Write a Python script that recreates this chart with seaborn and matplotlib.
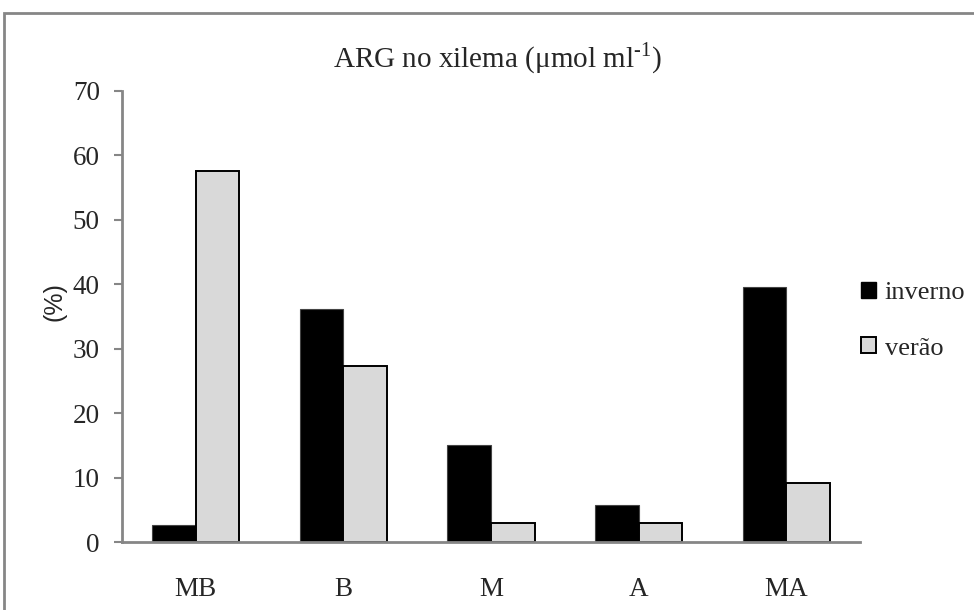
import matplotlib
matplotlib.use("Agg")
import matplotlib.pyplot as plt
from matplotlib.patches import Rectangle, Patch
import seaborn as sns
import pandas as pd

categories = ["MB", "B", "M", "A", "MA"]
inverno = [2.6, 36.2, 15.0, 5.8, 39.5]
verao = [57.6, 27.3, 2.9, 2.9, 9.1]
series_names = ["inverno", "verão"]
yticks = [0, 10, 20, 30, 40, 50, 60, 70]

df = pd.DataFrame({
    "categoria": categories * 2,
    "estacao": [series_names[0]] * len(categories) + [series_names[1]] * len(categories),
    "valor": inverno + verao,
})

sns.set_theme(style="white")
plt.rcParams["font.family"] = ["Liberation Serif", "DejaVu Serif"]
plt.rcParams["mathtext.fontset"] = "custom"
plt.rcParams["mathtext.rm"] = "Liberation Serif"

axis_gray = "#868686"
fill_colors = {series_names[0]: "#000000", series_names[1]: "#d9d9d9"}

fig = plt.figure(figsize=(9.74, 6.10), dpi=100)
ax = fig.add_axes([122 / 974, 1 - 542 / 610, (860 - 122) / 974, (542 - 90.7) / 610])

sns.barplot(data=df, x="categoria", y="valor", hue="estacao",
            palette=fill_colors, width=0.59, gap=0, ax=ax,
            edgecolor="black", linewidth=1.4, legend=False)

# lighter outline on the black bars
n = len(categories)
for bar in ax.patches[:n]:
    bar.set_edgecolor("#444444")
    bar.set_linewidth(0.8)

ax.set_ylim(0, 70)
ax.set_xlim(-0.5, len(categories) - 0.5)
ax.set_yticks(yticks)
ax.set_yticklabels([str(t) for t in yticks], fontsize=19.5)
ax.set_xticks(range(len(categories)))
ax.set_xticklabels(categories, fontsize=19.5)
ax.set_xticks([i - 0.5 for i in range(len(categories) + 1)], minor=True)
ax.tick_params(axis="x", which="major", length=0, pad=25)
ax.tick_params(axis="x", which="minor", length=6, width=1.5, color=axis_gray, direction="out")
ax.tick_params(axis="y", length=6, width=1.5, color=axis_gray, direction="out", pad=10, left=True)

for side in ["top", "right"]:
    ax.spines[side].set_visible(False)
for side in ["left", "bottom"]:
    ax.spines[side].set_color(axis_gray)
    ax.spines[side].set_linewidth(2)

ax.set_xlabel("")
ax.set_ylabel("(%)", family=["Liberation Sans", "DejaVu Sans"], fontsize=18)
ax.yaxis.set_label_coords((66 - 122) / 738, (542 - 302) / 451.3)

fig.text(497 / 974, 1 - 67 / 610, r"ARG no xilema (μmol ml$^{\text{-1}}$)",
         ha="center", va="baseline", fontsize=21)

handles = [
    Patch(facecolor="#000000", edgecolor="#000000", linewidth=1.0),
    Patch(facecolor="#d9d9d9", edgecolor="#000000", linewidth=1.4),
]
fig.legend(handles, series_names, loc="upper left",
           bbox_to_anchor=(861 / 974, 1 - 282 / 610), frameon=False,
           fontsize=19, handlelength=0.55, handleheight=0.55, handletextpad=0.35,
           labelspacing=1.25, borderpad=0, borderaxespad=0)

# chart-area frame
fig.patches.append(Rectangle((3.5 / 974, -0.05), 1.2, 1 - 12.5 / 610 + 0.05,
                             transform=fig.transFigure, fill=False,
                             edgecolor=axis_gray, linewidth=2, zorder=0))

fig.savefig("out.png", dpi=100)
